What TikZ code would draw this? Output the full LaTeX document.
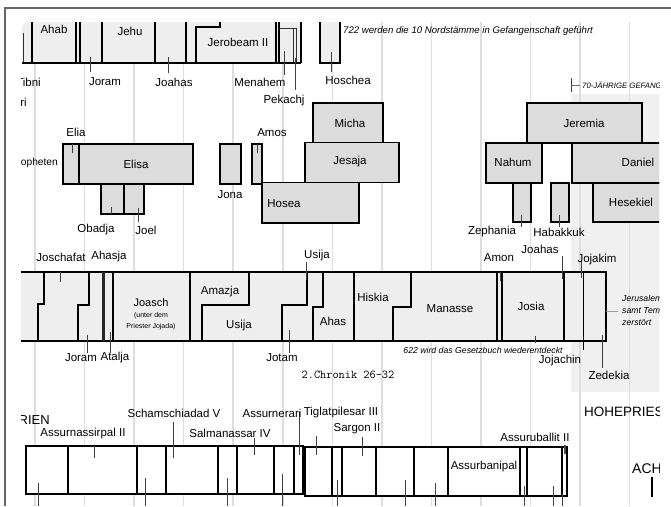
\documentclass[tikz,border=0pt]{standalone}
\usepackage{fontspec}
\setmainfont{Liberation Sans}
\definecolor{bandg}{HTML}{EEEEEE}
\definecolor{boxg}{HTML}{DCDCDC}
\definecolor{shadeg}{HTML}{F0F0F0}
\definecolor{gridg}{HTML}{DDDDDD}
\definecolor{frameg}{HTML}{666666}
\tikzset{
  lab/.style={font=\fontsize{11.5}{12}\selectfont, inner sep=0pt},
  smalltxt/.style={font=\fontsize{7}{8}\selectfont, inner sep=0pt},
  note/.style={font=\fontsize{8.7}{9}\selectfont\itshape, inner sep=0pt},
  bd/.style={line width=1.6pt, black},
  thinbd/.style={line width=0.8pt, black!80},
  tk/.style={line width=0.9pt, black!75},
  pbox/.style={draw=black, line width=1.6pt, fill=boxg},
  gridln/.style={draw=gridg, line width=1.5pt},
}
\begin{document}
\begin{tikzpicture}[x=1pt,y=-1pt]
\useasboundingbox (0,0) rectangle (671,506);
\fill[white] (0,0) rectangle (671,506);
\draw[frameg, line width=1.5pt] (5,506) -- (5,8) -- (671,8);
\begin{scope}
\clip (21,22) rectangle (659,506);
% shaded region
\fill[shadeg] (571,94) rectangle (700,392);
% grid
\foreach \k in {0,...,12} { \draw[gridln] ({35+49.55*\k},22) -- ({35+49.55*\k},506); }

% ---------------- Israel band ----------------
\fill[bandg] (301,22) -- (28,22) to[out=180,in=90] (22,28) -- (22,63) -- (301,63) -- cycle;
\fill[bandg] (320,22) rectangle (340,63);
\draw[thinbd] (23,33) -- (23,63);
\foreach \xx in {32,76,80,102,155,186,276,279,301} { \draw[bd] (\xx,22) -- (\xx,63); }
\draw[bd] (196,63) -- (196,27) -- (220,27) -- (220,22);
\draw[thinbd] (279,28) -- (296,28) -- (296,63);
\draw[thinbd] (293,29) -- (293,63);
\draw[bd] (22,63) -- (301,63);
\draw[bd] (320,22) -- (320,63) -- (340,63) -- (340,22);
\draw[tk] (90,57) -- (90,72);
\draw[tk] (168,57) -- (168,73);
\draw[tk] (284,51) -- (284,75);
\draw[tk] (295,58) -- (295,90);
\draw[tk] (331,52) -- (331,72);
\node[lab] (ahab) at (54,29) {Ahab};
\node[lab] (jehu) at (130,31) {Jehu};
\node[lab] (jerob) at (238,42) {Jerobeam II};
\node[lab, anchor=east] (tibni) at (41,82) {Tibni};
\node[lab, anchor=east] (omri) at (27,102) {Omri};
\node[lab] (joramI) at (105,82) {Joram};
\node[lab] (joahasI) at (174,82) {Joahas};
\node[lab] (menahem) at (260,82) {Menahem};
\node[lab] (pekachj) at (284,101) {Pekachj};
\node[lab] (hoschea) at (348,80) {Hoschea};
\node[note, anchor=west, font=\fontsize{9.6}{10}\selectfont\itshape] (n722) at (343,31) {722 werden die 10 Nordstämme in Gefangenschaft geführt};

% 70 years marker
\draw[tk] (571,78) -- (571,92);
\draw[line width=0.6pt, black!60] (571,85) -- (580,85);
\node[font=\fontsize{7.8}{9}\selectfont\itshape, inner sep=0pt, anchor=west] (gef) at (582,85) {70-JÄHRIGE GEFANGENSCHAFT};

% ---------------- Prophets ----------------
\node[lab, anchor=east, font=\fontsize{10.2}{11}\selectfont] (proph) at (58,163) {Propheten};
\draw[pbox] (63,144) rectangle (79,184);
\draw[pbox] (79,144) rectangle (193,184);
\draw[pbox] (101,184) rectangle (124,214);
\draw[pbox] (124,184) rectangle (144,214);
\draw[pbox] (220,144) rectangle (241,184);
\draw[pbox] (252,144) rectangle (262,184);
\draw[pbox] (262,182.5) rectangle (359,223);
\draw[pbox] (305,142.5) rectangle (399,182.5);
\draw[pbox] (313,103) rectangle (383,142.5);
\draw[pbox] (527,103) rectangle (642,143);
\draw[pbox] (486,143) rectangle (542,183);
\draw[pbox] (572,143) rectangle (700,183);
\draw[pbox] (593,183) rectangle (700,222);
\draw[pbox] (513,183) rectangle (531,222);
\draw[pbox] (551,183) rectangle (569,222);
\draw[tk] (72,144) -- (72,153);
\draw[tk] (257,144) -- (257,153);
\draw[tk] (111,207) -- (111,214);
\draw[tk] (138,208) -- (138,222);
\draw[tk] (521,215) -- (521,227);
\draw[tk] (559,215) -- (559,227);
\node[lab] (elia) at (76,132) {Elia};
\node[lab] (elisa) at (136,164) {Elisa};
\node[lab] (obadja) at (96,230) {Obadja};
\node[lab] (joel) at (146,230) {Joel};
\node[lab] (jona) at (230,195) {Jona};
\node[lab] (amos) at (272,133) {Amos};
\node[lab] (hosea) at (284,204) {Hosea};
\node[lab] (micha) at (350,123) {Micha};
\node[lab] (jesaja) at (350,162) {Jesaja};
\node[lab] (jeremia) at (584,123) {Jeremia};
\node[lab] (nahum) at (513,162) {Nahum};
\node[lab] (daniel) at (638,162) {Daniel};
\node[lab] (hesekiel) at (631,202) {Hesekiel};
\node[lab] (zephania) at (492,232) {Zephania};
\node[lab] (habakkuk) at (559,232) {Habakkuk};

% ---------------- Judah band ----------------
\fill[bandg] (20,272) rectangle (606,341);
\draw[bd] (20,272) -- (606,272) -- (606,341) -- (20,341);
\draw[bd] (44,272) -- (44,304) -- (38,304) -- (38,341);
\draw[bd] (89,272) -- (89,305) -- (78,305) -- (78,341);
\fill[black!85] (101.5,272) rectangle (105,341);
\draw[bd] (113,272) -- (113,341);
\draw[bd] (190,272) -- (190,341);
\draw[bd] (249,272) -- (249,305) -- (202,305) -- (202,341);
\draw[bd] (307,272) -- (307,305) -- (282,305) -- (282,341);
\draw[bd] (323,272) -- (323,307) -- (313,307) -- (313,341);
\draw[bd] (354,272) -- (354,341);
\draw[bd] (411,272) -- (411,307) -- (393,307) -- (393,341);
\draw[bd] (497,272) -- (497,341);
\draw[bd] (502,272) -- (502,341);
\draw[bd] (564,272) -- (564,341);
\draw[bd] (583.5,272) -- (583.5,350);
\draw[tk] (60,272) -- (60,282);
\draw[tk] (87,335) -- (87,353);
\draw[tk] (110,332) -- (110,353);
\draw[tk] (306,262) -- (306,280);
\draw[tk] (289,330) -- (289,353);
\draw[tk] (500,272) -- (500,281);
\draw[tk] (535,336) -- (535,343);
\draw[tk] (562,256) -- (562,279);
\draw[tk] (581,260) -- (581,278);
\draw[tk] (602,335) -- (602,368);
\draw[line width=0.6pt, black!40] (606,311) -- (618,311);
\node[lab] (joschafat) at (61,257) {Joschafat};
\node[lab] (ahasja) at (109,257) {Ahasja};
\node[lab] (joramJ) at (81,358) {Joram};
\node[lab] (atalja) at (115,358) {Atalja};
\node[lab, font=\fontsize{11}{12}\selectfont] (joasch) at (151,303) {Joasch};
\node[smalltxt] (unter) at (151,316) {(unter dem};
\node[smalltxt] (priester) at (151,327) {Priester Jojada)};
\node[lab] (amazja) at (220,292) {Amazja};
\node[lab] (usija) at (239,326) {Usija};
\node[lab] (usijatop) at (317,256) {Usija};
\node[lab] (jotam) at (282,358) {Jotam};
\node[lab] (ahas) at (333,321) {Ahas};
\node[lab] (hiskia) at (373,297) {Hiskia};
\node[lab] (manasse) at (450,309) {Manasse};
\node[lab] (amon) at (499,258) {Amon};
\node[lab] (joahasJ) at (540,249) {Joahas};
\node[lab] (jojakim) at (597,260) {Jojakim};
\node[lab] (josia) at (531,306) {Josia};
\node[lab] (jojachin) at (560,361) {Jojachin};
\node[lab] (zedekia) at (609,375) {Zedekia};
\node[note] (n622) at (483,350) {622 wird das Gesetzbuch wiederentdeckt};
\node[note, anchor=west] (jer1) at (622,298) {Jerusalem};
\node[note, anchor=west] (jer2) at (622,311) {samt Tempel};
\node[note, anchor=west] (jer3) at (622,323) {zerstört};
\node[font=\fontsize{12}{13}\ttfamily\addfontfeature{FakeBold=1.2}, inner sep=0pt] (chron) at (348,375) {2.Chronik 26-32};

% ---------------- Assyria band ----------------
\draw[bd, fill=white] (26,446) rectangle (303,494);
\draw[bd, fill=white] (305,447) rectangle (567,496);
\foreach \xx in {68,137,166,218,237,274,294} { \draw[bd] (\xx,446) -- (\xx,494); }
\foreach \xx in {332,342,376,414,448,520,527,562} { \draw[bd] (\xx,447) -- (\xx,496); }
\draw[tk] (94,446) -- (94,458);
\draw[tk] (173,422) -- (173,458);
\draw[tk] (254,438) -- (254,455);
\draw[tk] (299,412) -- (299,455);
\draw[tk] (316,436) -- (316,455);
\draw[tk] (362,437) -- (362,456);
\draw[line width=2pt, black!70] (565,445) -- (565,454);
\foreach \xx/\yy in {38/483,145/478,227/478,282/474,337/480,405/480,435/483,524/486,553/486,562/493} { \draw[tk] (\xx,\yy) -- (\xx,506); }
\node[lab, anchor=east, font=\fontsize{13}{14}\selectfont] (assyr) at (50,420) {ASSYRIEN};
\node[lab] (assurnass) at (83,434) {Assurnassirpal II};
\node[lab] (scham) at (174,413) {Schamschiadad V};
\node[lab] (salman) at (230,433) {Salmanassar IV};
\node[lab] (assurner) at (272,413) {Assurnerari};
\node[lab] (tiglat) at (341,413) {Tiglatpilesar III};
\node[lab] (sargon) at (357,429) {Sargon II};
\node[lab] (assurban) at (484,467) {Assurbanipal};
\node[lab] (assurub) at (535,437) {Assuruballit II};
\node[lab, anchor=west, font=\fontsize{13.5}{14}\selectfont] (hohe) at (584,412) {HOHEPRIESTER};
\node[lab, anchor=west, font=\fontsize{14}{15}\selectfont] (ach) at (632,468) {ACHÄMENIDEN};
\draw[line width=2pt, black] (652,477) -- (652,497);
\end{scope}
\end{tikzpicture}
\end{document}
